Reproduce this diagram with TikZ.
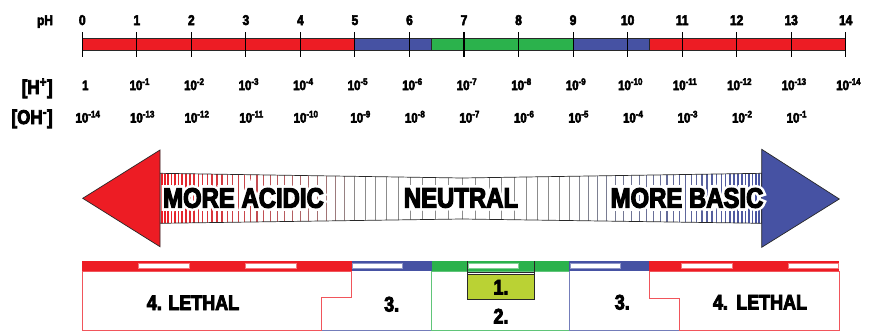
\documentclass[tikz,border=0pt]{standalone}
\usepackage{fontspec}
\setmainfont[FakeStretch=0.85]{Liberation Sans}
\newfontfamily\heavyfont[FakeStretch=0.85, FakeBold=4]{Liberation Sans Bold}
\newfontfamily\halofont[FakeStretch=0.85, FakeBold=22]{Liberation Sans Bold}
\usepackage{xcolor}
\usepackage{tikz}
\definecolor{acid}{RGB}{237,28,36}
\definecolor{base}{RGB}{70,82,163}
\definecolor{neutral}{RGB}{43,178,76}
\definecolor{lime}{RGB}{186,210,52}
\definecolor{rim}{RGB}{40,40,40}
\colorlet{stripe}{black!45}

\begin{document}
\begin{tikzpicture}[
x=0.3mm, y=-0.3mm,
num/.style={font=\heavyfont\fontsize{12}{14}\selectfont, inner sep=0pt, anchor=base},
val/.style={font=\heavyfont\fontsize{11.5}{13}\selectfont, inner sep=0pt, anchor=base},
ion/.style={font=\heavyfont\fontsize{17}{19}\selectfont, inner sep=0pt, anchor=base east},
big/.style={font=\heavyfont\fontsize{24}{26}\selectfont, inner sep=0pt},
halo/.style={font=\halofont\fontsize{24}{26}\selectfont, inner sep=0pt, text=white},
zone/.style={font=\heavyfont\fontsize{18}{20}\selectfont, inner sep=0pt, anchor=base},
bar/.style={draw=rim, line width=0.8pt},
tick/.style={draw=black, line width=0.9pt},
edge/.style={line width=0.7pt}
]
\useasboundingbox (0,0) rectangle (873,333);

\foreach \a/\b/\c in {0/5/acid,5/6.4/base,6.4/9/neutral,9/10.4/base,10.4/14/acid}
  \draw[bar, fill=\c] ({82.3+54.53*\a},38) rectangle ({82.3+54.53*\b},50);
\node[num] (phlabel) at (45,25) {pH};
\foreach \i in {0,...,14}{
  \draw[tick] ({82.3+54.53*\i},32) -- ++(0,25);
  \node[num] (ph\i) at ({82.3+54.53*\i},25) {\i};
  \node[val] (h\i) at ({85.3+54.53*\i},90) {\ifnum\i=0 1\else 10\textsuperscript{-\i}\fi};
}
\foreach \i in {0,...,13}{
  \pgfmathtruncatemacro\e{14-\i}
  \node[val] (oh\i) at ({88+54.53*\i},122.5) {10\textsuperscript{-\e}};
}
\node[ion] (hion) at (53,94) {[H\textsuperscript{+}]};
\node[ion] (ohion) at (53,124) {[OH\textsuperscript{-}]};

\begin{scope}
\clip (160,173.3) -- (462,178) -- (761.7,173.3) -- (761.7,223.3) -- (462,219) -- (160,223.3) -- cycle;
\foreach \i in {0,...,42}{
  \pgfmathsetmacro\t{381.8*(1-exp(-0.03667*\i))/302}
  \pgfmathtruncatemacro\p{100*max(0,(\t-0.35)/0.65)^0.8}
  \pgfmathsetmacro\w{0.5+0.9*\t*\t}
  \draw[line width=\w pt, acid!\p!stripe] ({462-302*\t},170) -- ++(0,60);
  \draw[line width=\w pt, base!\p!stripe] ({462+302*\t},170) -- ++(0,60);
}
\end{scope}
\draw[rim, line width=0.6pt] (160,173.3) -- (462,178) -- (761.7,173.3) -- (761.7,223.3) -- (462,219) -- (160,223.3) -- cycle;
\draw[rim, line width=0.6pt, fill=acid] (82.7,198.3) -- (160,150) -- (160,246.7) -- cycle;
\draw[rim, line width=0.6pt, fill=base] (839.3,199) -- (761.7,149.3) -- (761.7,247.3) -- cycle;
\node[halo] at (243.5,198) {MORE ACIDIC};
\node[big] (acidic) at (243.5,198) {MORE ACIDIC};
\node[halo] at (461,198) {NEUTRAL};
\node[big] (middle) at (461,198) {NEUTRAL};
\node[halo] at (687,198) {MORE BASIC};
\node[big] (basic) at (687,198) {MORE BASIC};

\foreach \a/\b/\c in {82.3/351.7/acid,351.7/431.7/base,431.7/569.3/neutral,569.3/649.3/base,649.3/839.3/acid}
  \fill[\c] (\a,261) rectangle (\b,271);
\foreach \a/\b/\c in {138.3/189/acid,245/296/acid,352.7/402.3/base,468/518/neutral,570.3/620/base,681.7/732.3/acid,788.3/838.3/acid}
  \draw[\c!60, fill=white, line width=0.4pt] (\a,263.3) rectangle (\b,268.7);
\draw[edge, base!75] (351.7,271) -- (351.7,297.7) -- (321.7,297.7) -- (321.7,330) -- (431.7,330) -- (431.7,271);
\draw[edge, neutral!75] (431.7,271) rectangle (569.3,330);
\draw[edge, base!75] (569.3,271) -- (569.3,330) -- (679.3,330) -- (679.3,298.3) -- (649.3,298.3) -- (649.3,271);
\draw[edge, acid!75] (351.7,271) -- (351.7,297.7) -- (321.7,297.7) -- (321.7,330) -- (82.3,330) -- (82.3,271) -- cycle;
\draw[edge, acid!75] (649.3,271) -- (649.3,298.3) -- (679.3,298.3) -- (679.3,330) -- (839.3,330) -- (839.3,271) -- cycle;
\draw[rim, line width=0.7pt] (467.7,261) -- (467.7,299.3) (534.3,261) -- (534.3,299.3) (467.7,272) -- (534.3,272);
\draw[rim, line width=0.7pt, fill=lime] (467.7,274.5) rectangle (534.3,299.3);
\node[zone] (lethalleft) at (193,310) {4. LETHAL};
\node[zone] (harmleft) at (391.7,311.5) {3.};
\node[zone] (safe) at (501,294.5) {1.};
\node[zone] (usual) at (501,323.5) {2.};
\node[zone] (harmright) at (622.3,309.5) {3.};
\node[zone] (lethalright) at (760,309.5) {4.\hspace{0.4em}LETHAL};
\end{tikzpicture}
\end{document}
